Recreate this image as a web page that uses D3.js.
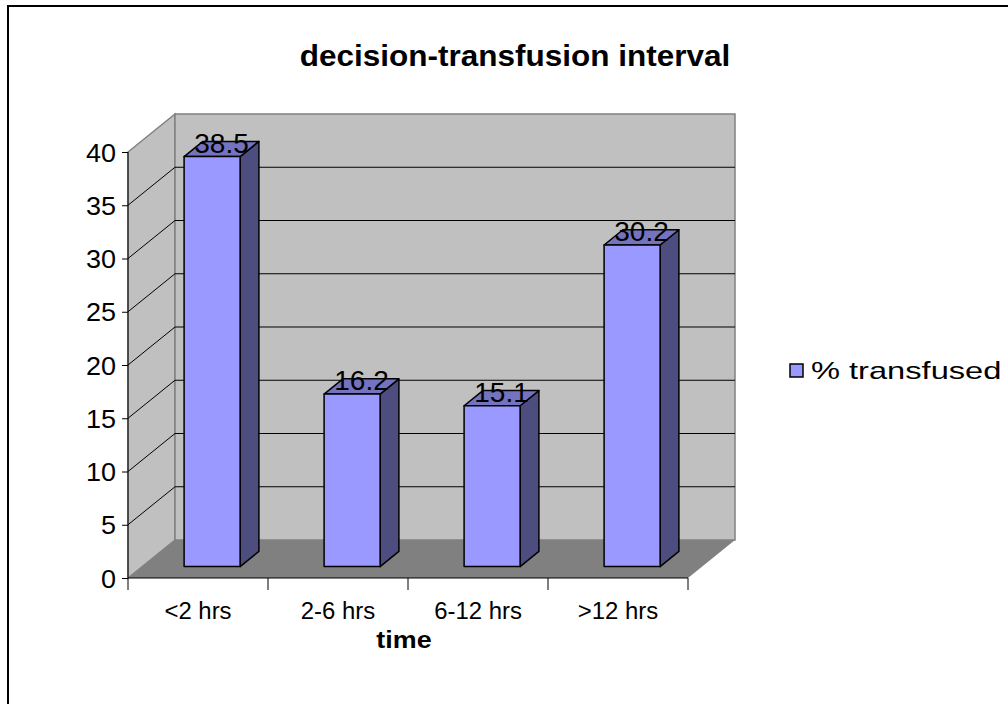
<!DOCTYPE html>
<html>
<head>
<meta charset="utf-8">
<script src="https://cdn.jsdelivr.net/npm/d3@7/dist/d3.min.js"></script>
<style>
  html, body { margin: 0; padding: 0; background: #fff; }
  svg { display: block; font-family: "Liberation Sans", Arial, sans-serif; }
</style>
</head>
<body>
<svg id="chart" width="1008" height="704"></svg>
<script>
// ---- data ----
const categories = ["<2 hrs", "2-6 hrs", "6-12 hrs", ">12 hrs"];
const seriesName = "% transfused";
const values = [38.5, 16.2, 15.1, 30.2];
const yTicks = [0, 5, 10, 15, 20, 25, 30, 35, 40];
const titleText = "decision-transfusion interval";
const xTitle = "time";

// ---- layout ----
const svg = d3.select("#chart");
const X0 = 128, X1 = 688, Y0 = 578, Y1 = 152;
const DX = 47, DY = -38;            // full depth offset
const y = d3.scaleLinear().domain([0, 40]).range([Y0, Y1]);
const x = d3.scaleBand().domain(categories).range([X0, X1]).paddingInner(0).paddingOuter(0);
const barFrac = 0.4, dFront = 0.3, dBack = 0.7;

// text helper (reference text is slightly widened)
function stext(parent, txt, px, py, size, sx, anchor, bold) {
  const t = parent.append("text")
    .attr("transform", `translate(${px},${py}) scale(${sx},1)`)
    .attr("text-anchor", anchor).attr("font-size", size).attr("fill", "#000")
    .text(txt);
  if (bold) t.attr("font-weight", "bold");
  return t;
}

// outer border
svg.append("rect").attr("x", 8).attr("y", 6).attr("width", 1010).attr("height", 710)
  .attr("fill", "none").attr("stroke", "#000").attr("stroke-width", 2);

// title
stext(svg, titleText, 515, 66, 30, 1.05, "middle", true);

const g = svg.append("g");

// floor
g.append("polygon")
  .attr("points", [[X0, Y0], [X1, Y0], [X1 + DX, Y0 + DY], [X0 + DX, Y0 + DY]].map(p => p.join(",")).join(" "))
  .attr("fill", "#808080").attr("stroke", "none");
// side wall
g.append("polygon")
  .attr("points", [[X0, Y0], [X0, Y1], [X0 + DX, Y1 + DY], [X0 + DX, Y0 + DY]].map(p => p.join(",")).join(" "))
  .attr("fill", "#C0C0C0").attr("stroke", "#808080").attr("stroke-width", 1.5);
// back wall
g.append("rect").attr("x", X0 + DX).attr("y", Y1 + DY).attr("width", X1 - X0).attr("height", Y0 - Y1)
  .attr("fill", "#C0C0C0").attr("stroke", "#808080").attr("stroke-width", 1.5);

// gridlines
yTicks.filter(v => v > 0 && v < 40).forEach(v => {
  const yy = y(v);
  g.append("polyline")
    .attr("points", `${X0},${yy} ${X0 + DX},${yy + DY} ${X1 + DX},${yy + DY}`)
    .attr("fill", "none").attr("stroke", "#000").attr("stroke-width", 1);
});

// bars
const bw = x.bandwidth() * barFrac;
const sdx = DX * (dBack - dFront), sdy = DY * (dBack - dFront);
values.forEach((v, i) => {
  const cx = x(categories[i]) + x.bandwidth() / 2;
  const fx0 = cx - bw / 2 + DX * dFront, fx1 = fx0 + bw;
  const yTop = y(v) + DY * dFront, yBot = y(0) + DY * dFront;
  const bg = g.append("g").attr("stroke", "#000").attr("stroke-width", 1.5).attr("stroke-linejoin", "round");
  bg.append("polygon")
    .attr("points", `${fx1},${yTop} ${fx1 + sdx},${yTop + sdy} ${fx1 + sdx},${yBot + sdy} ${fx1},${yBot}`)
    .attr("fill", "#4D4D80");
  bg.append("polygon")
    .attr("points", `${fx0},${yTop} ${fx1},${yTop} ${fx1 + sdx},${yTop + sdy} ${fx0 + sdx},${yTop + sdy}`)
    .attr("fill", "#7373BF");
  bg.append("rect").attr("x", fx0).attr("y", yTop).attr("width", bw).attr("height", yBot - yTop)
    .attr("fill", "#9999FF");
  stext(g, v.toFixed(1), cx + DX * dFront + sdx / 2, yTop - 4, 28, 1.0, "middle", false);
});

// y axis
const yAxis = g.append("g").attr("transform", `translate(${X0},0)`)
  .call(d3.axisLeft(y).tickValues(yTicks).tickSize(6).tickPadding(6).tickFormat(d3.format("d")));
yAxis.select(".domain").attr("stroke", "#000").attr("d", `M0,${Y0}V${Y1}`);
yAxis.selectAll(".tick line").attr("stroke", "#000");
yAxis.selectAll(".tick text").remove();
yAxis.selectAll(".tick").each(function (d) {
  stext(d3.select(this), String(d), -12, 9, 25, 1.08, "end", false);
});

// x axis
const xAxis = g.append("g").attr("transform", `translate(0,${Y0})`)
  .call(d3.axisBottom(x).tickSize(0).tickPadding(24));
xAxis.select(".domain").attr("stroke", "#000").attr("d", `M${X0},0H${X1}`);
xAxis.selectAll(".tick text").remove();
xAxis.selectAll(".tick").each(function (d) {
  stext(d3.select(this), d, 0, 41, 23, 1.04, "middle", false);
});
const seps = categories.map(c => x(c)).concat([X1]);
xAxis.selectAll(".sep").data(seps).enter().append("line").attr("class", "sep")
  .attr("x1", d => d).attr("x2", d => d).attr("y1", 0).attr("y2", 12).attr("stroke", "#000");

// x title
stext(svg, xTitle, 404, 648, 24, 1.12, "middle", true);

// legend
const lg = svg.append("g").attr("transform", "translate(790,364)");
lg.append("rect").attr("x", 0).attr("y", 0).attr("width", 13).attr("height", 13)
  .attr("fill", "#9999FF").attr("stroke", "#000").attr("stroke-width", 1.5);
stext(lg, seriesName, 21, 15, 24, 1.36, "start", false);
</script>
</body>
</html>
